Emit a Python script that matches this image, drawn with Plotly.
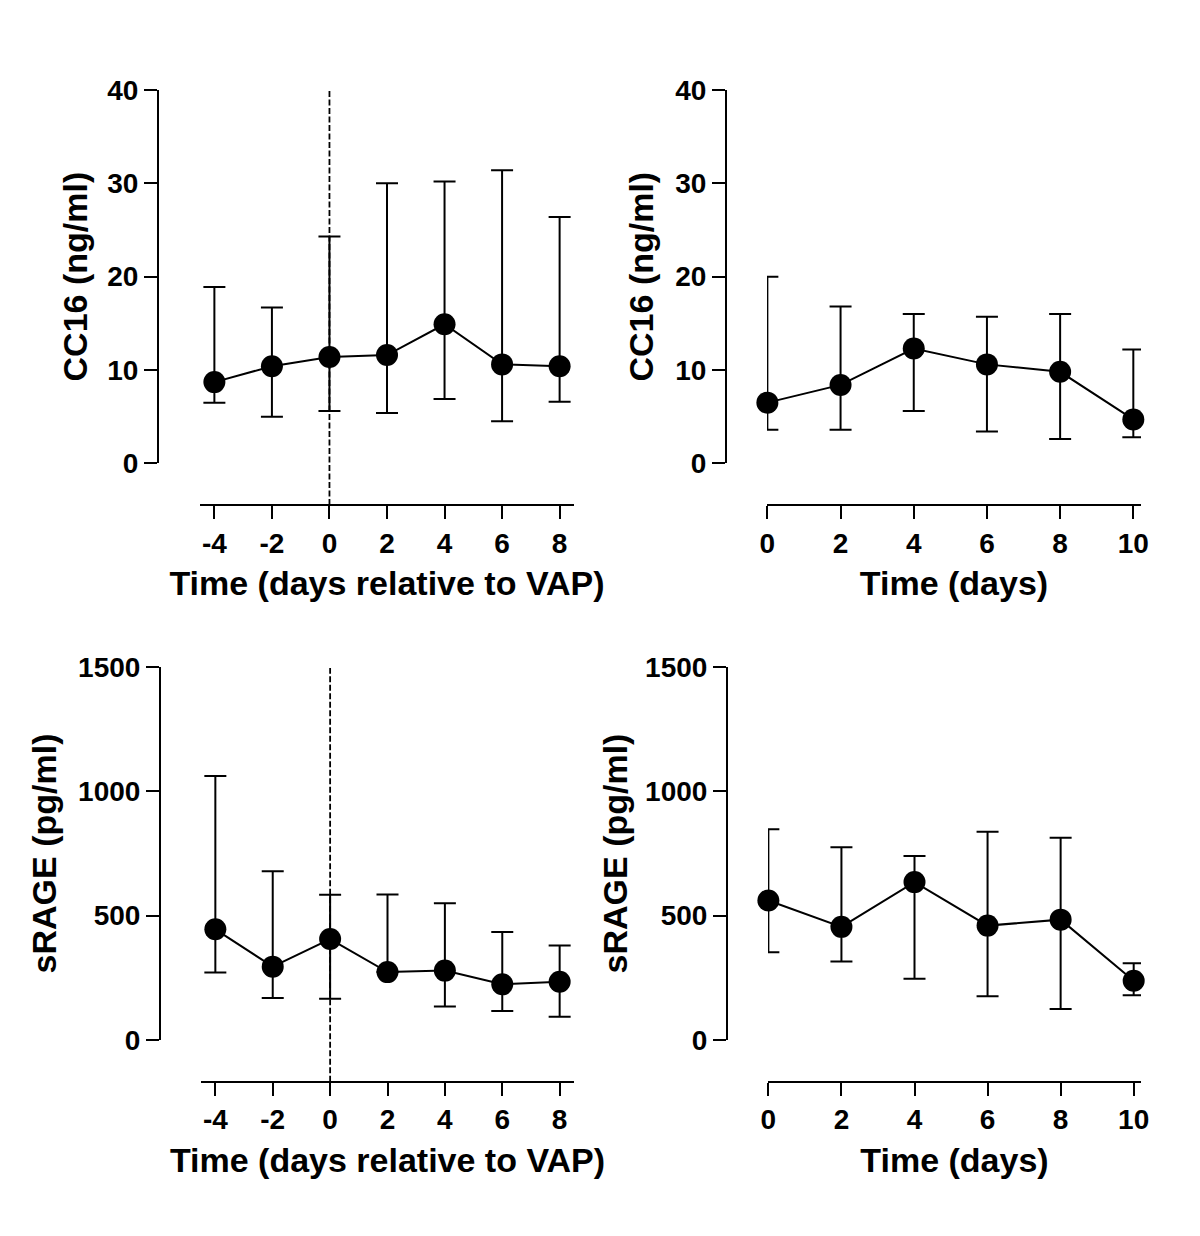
import plotly.graph_objects as go

W, H = 1192, 1228   # page body adds an 8px margin on top/left
OFF = 8

# ---------------- data ----------------
vap_days = [-4, -2, 0, 2, 4, 6, 8]
days = [0, 2, 4, 6, 8, 10]

cc16_vap_mean = [8.7, 10.4, 11.4, 11.6, 14.9, 10.6, 10.4]
cc16_vap_upper = [18.9, 16.7, 24.3, 30.0, 30.2, 31.4, 26.4]
cc16_vap_lower = [6.5, 5.0, 5.6, 5.4, 6.9, 4.5, 6.6]

cc16_time_mean = [6.5, 8.4, 12.3, 10.6, 9.8, 4.7]
cc16_time_upper = [20.0, 16.8, 16.0, 15.7, 16.0, 12.2]
cc16_time_lower = [3.6, 3.6, 5.6, 3.4, 2.6, 2.8]

srage_vap_mean = [445, 295, 406, 273, 279, 224, 234]
srage_vap_upper = [1062, 679, 584, 585, 550, 434, 380]
srage_vap_lower = [271, 169, 166, 273, 135, 117, 94]

srage_time_mean = [561, 455, 635, 460, 484, 238]
srage_time_upper = [848, 775, 740, 837, 813, 309]
srage_time_lower = [353, 316, 246, 176, 125, 180]

vap_ticks = [-4, -2, 0, 2, 4, 6, 8]
vap_tick_text = ["-4", "-2", "0", "2", "4", "6", "8"]
day_ticks = [0, 2, 4, 6, 8, 10]
day_tick_text = ["0", "2", "4", "6", "8", "10"]
cc16_ticks = [0, 10, 20, 30, 40]
srage_ticks = [0, 500, 1000, 1500]

x_title_vap = "Time (days relative to VAP)"
x_title_days = "Time (days)"
y_title_cc16 = "CC16 (ng/ml)"
y_title_srage = "sRAGE (pg/ml)"

# ---------------- helpers ----------------
def px_x(p):
    return (p - OFF) / W

def px_y(p):
    return 1 - (p - OFF) / H

FONT = "Liberation Sans, Arial, Helvetica, sans-serif"
tickfont = dict(family=FONT, size=28, color="black", weight="bold")
titlefont = dict(family=FONT, size=34, color="black", weight="bold")

fig = go.Figure()

panels = [
    (vap_days, cc16_vap_mean, cc16_vap_upper, cc16_vap_lower, "x", "y"),
    (days, cc16_time_mean, cc16_time_upper, cc16_time_lower, "x2", "y2"),
    (vap_days, srage_vap_mean, srage_vap_upper, srage_vap_lower, "x3", "y3"),
    (days, srage_time_mean, srage_time_upper, srage_time_lower, "x4", "y4"),
]

for xs, m, up, lo, xa, ya in panels:
    fig.add_trace(go.Scatter(
        x=xs, y=m, xaxis=xa, yaxis=ya,
        mode="lines+markers",
        line=dict(color="black", width=2),
        marker=dict(color="black", size=22),
        error_y=dict(type="data", symmetric=False,
                     array=[u - v for u, v in zip(up, m)],
                     arrayminus=[v - l for v, l in zip(m, lo)],
                     color="black", thickness=2, width=11),
        cliponaxis=False, showlegend=False, hoverinfo="skip",
    ))

def xaxis(dom, rng, pos, ticks, ticktext, title):
    return dict(domain=[px_x(dom[0]), px_x(dom[1])], range=rng,
                anchor="free", position=px_y(pos), automargin=False,
                showline=True, linecolor="black", linewidth=2,
                ticks="outside", ticklen=13, tickwidth=2, tickcolor="black",
                tickvals=ticks, ticktext=ticktext, tickfont=tickfont,
                showgrid=False, zeroline=False,
                title=dict(text=title, font=titlefont, standoff=13))

def yaxis(dom, rng, pos, ticks, title, standoff):
    return dict(domain=[px_y(dom[1]), px_y(dom[0])], range=rng,
                anchor="free", position=px_x(pos), automargin=False,
                showline=True, linecolor="black", linewidth=2,
                ticks="outside", ticklen=13, tickwidth=2, tickcolor="black",
                tickvals=ticks, tickfont=tickfont,
                showgrid=False, zeroline=False,
                title=dict(text=title, font=titlefont, standoff=standoff))

fig.update_layout(
    template="none",
    width=W, height=H,
    margin=dict(l=0, r=0, t=0, b=0, autoexpand=False),
    paper_bgcolor="white", plot_bgcolor="white",
    xaxis=xaxis((200, 574), [-4.5, 8.5], 505, vap_ticks, vap_tick_text, x_title_vap),
    yaxis=yaxis((90, 463.3), [0, 40], 158, cc16_ticks, y_title_cc16, 8),
    xaxis2=xaxis((767, 1141), [-0.01, 10.21], 505, day_ticks, day_tick_text, x_title_days),
    yaxis2=yaxis((90, 463.3), [0, 40], 726, cc16_ticks, y_title_cc16, 10),
    xaxis3=xaxis((201, 574), [-4.5, 8.5], 1081.7, vap_ticks, vap_tick_text, x_title_vap),
    yaxis3=yaxis((667, 1040), [0, 1500], 160, srage_ticks, y_title_srage, 10),
    xaxis4=xaxis((768, 1141), [-0.01, 10.2], 1081.7, day_ticks, day_tick_text, x_title_days),
    yaxis4=yaxis((667, 1040), [0, 1500], 727, srage_ticks, y_title_srage, 6),
)

# dashed reference lines at VAP day 0
for xref, ytop, ybot in [("x", 90, 505), ("x3", 668, 1081.7)]:
    fig.add_shape(type="line", xref=xref, yref="paper",
                  x0=0, x1=0, y0=px_y(ybot), y1=px_y(ytop),
                  line=dict(color="black", width=1.8, dash="6px,2.5px"),
                  layer="below")

fig.write_html("out.html")
